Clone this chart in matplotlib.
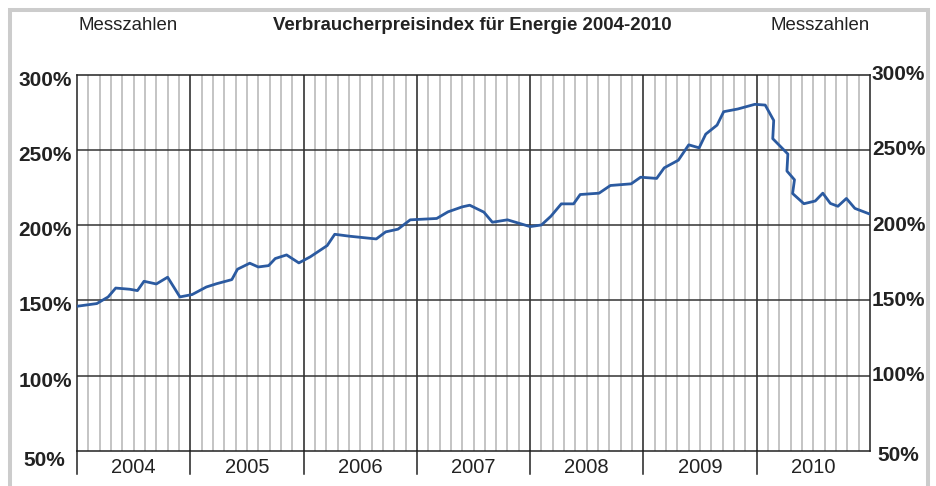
import numpy as np
import matplotlib
matplotlib.use("Agg")
import matplotlib.pyplot as plt
import matplotlib.patches as patches

plt.rcParams['font.family'] = ['Liberation Sans', 'DejaVu Sans']

# Monatspositionen (0 = Jan 2004) und Indexwerte
months = [0.0, 2.1, 3.3, 4.1, 5.6, 6.4, 7.1, 8.4, 9.6, 10.9,
          12.2, 13.7, 14.8, 16.4, 17.0, 18.3, 19.2, 20.3, 21.0, 22.2,
          23.5, 24.7, 26.5, 27.3, 28.9, 31.7, 32.7, 34.0, 35.3, 38.1,
          39.3, 40.8, 41.6, 43.1, 44.0, 45.6, 48.0, 49.2, 50.2, 51.3,
          52.6, 53.3, 55.3, 56.5, 58.7, 59.7, 61.4, 62.2, 63.7, 64.8,
          65.9, 66.6, 67.8, 68.5, 70.0, 71.8, 72.9, 73.8, 73.7, 75.3,
          75.2, 76.0, 75.8, 77.0, 78.2, 79.0, 79.8, 80.6, 81.5, 82.4,
          83.9]
index = [146.1, 147.9, 152.3, 158.2, 157.4, 156.5, 162.7, 160.9, 165.4, 152.3,
         153.9, 158.9, 161.1, 163.8, 170.7, 174.7, 172.2, 173.1, 177.8, 180.2,
         174.9, 178.9, 186.4, 193.9, 192.6, 190.8, 195.5, 197.3, 203.5, 204.4,
         208.8, 212.1, 213.2, 208.6, 201.9, 203.5, 199.0, 200.1, 205.9, 214.1,
         214.1, 220.3, 221.2, 226.3, 227.4, 231.8, 231.0, 238.0, 243.1, 253.3,
         251.3, 260.4, 266.4, 275.3, 277.1, 280.2, 279.7, 269.5, 257.4, 247.2,
         235.9, 230.1, 221.0, 214.2, 216.0, 221.2, 214.4, 212.5, 217.7, 211.1,
         207.5]

years = ['2004', '2005', '2006', '2007', '2008', '2009', '2010']
yticks = [50, 100, 150, 200, 250, 300]
ylabels = ['50%', '100%', '150%', '200%', '250%', '300%']

fig = plt.figure(figsize=(9.36, 4.86), dpi=100)
ax = fig.add_axes([77/936, 1-451/486, 793/936, 376.5/486])

# grid: 10 columns per year, black line at each year start
for k in range(1, 70):
    xg = k * 1.2
    if k % 10 == 0:
        ax.axvline(xg, color='#222222', lw=1.1, zorder=2)
    else:
        ax.axvline(xg, color='#b4b4b4', lw=1.1, zorder=1)
for v in yticks[1:-1]:
    ax.axhline(v, color='#333333', lw=1.1, zorder=2)

ax.plot(months, index, color='#2b5aa0', lw=2.0, zorder=3, solid_joinstyle='round')

ax.set_xlim(0, 84)
ax.set_ylim(50, 300)
ax.set_xticks([])
ax.set_yticks([])
for s in ax.spines.values():
    s.set_color('#222222')
    s.set_linewidth(1.1)

# year boxes under the axis
xt = ax.get_xaxis_transform()
for i, y in enumerate(years):
    ax.plot([i*12, i*12], [0, -0.061], color='#222222', lw=1.1,
            transform=xt, clip_on=False)
    ax.text(i*12 + 6, -0.044, y, transform=xt, ha='center', va='center',
            fontsize=14.5, color='#222222')

# y labels on both sides
for v, lab in zip(yticks, ylabels):
    if v == 50:
        ax.annotate(lab, xy=(0, v), xycoords=('axes fraction', 'data'),
                    xytext=(-8.5, -6.5), textcoords='offset points',
                    ha='right', va='center', fontsize=15, fontweight='bold', color='#222222')
        ax.annotate(lab, xy=(1, v), xycoords=('axes fraction', 'data'),
                    xytext=(5.5, -3), textcoords='offset points',
                    ha='left', va='center', fontsize=15, fontweight='bold', color='#222222')
    else:
        ax.annotate(lab, xy=(0, v), xycoords=('axes fraction', 'data'),
                    xytext=(-3.6, -4), textcoords='offset points',
                    ha='right', va='center', fontsize=15, fontweight='bold', color='#222222')
        ax.annotate(lab, xy=(1, v), xycoords=('axes fraction', 'data'),
                    xytext=(1.4, 0), textcoords='offset points',
                    ha='left', va='center', fontsize=15, fontweight='bold', color='#222222')

fig.text(128/936, 1-25/486, 'Messzahlen', ha='center', va='center', fontsize=13.4, color='#222222')
fig.text(820/936, 1-25/486, 'Messzahlen', ha='center', va='center', fontsize=13.4, color='#222222')
fig.text(472/936, 1-25/486, 'Verbraucherpreisindex für Energie 2004-2010', ha='center',
         va='center', fontsize=13.4, fontweight='bold', color='#222222')

# grey frame
frame = patches.Rectangle((10/936, -0.05), 918/936, 1.05 - 10/486, transform=fig.transFigure,
                          fill=False, edgecolor='#cccccc', lw=2.9)
fig.patches.append(frame)

fig.savefig('out.png', dpi=100)
